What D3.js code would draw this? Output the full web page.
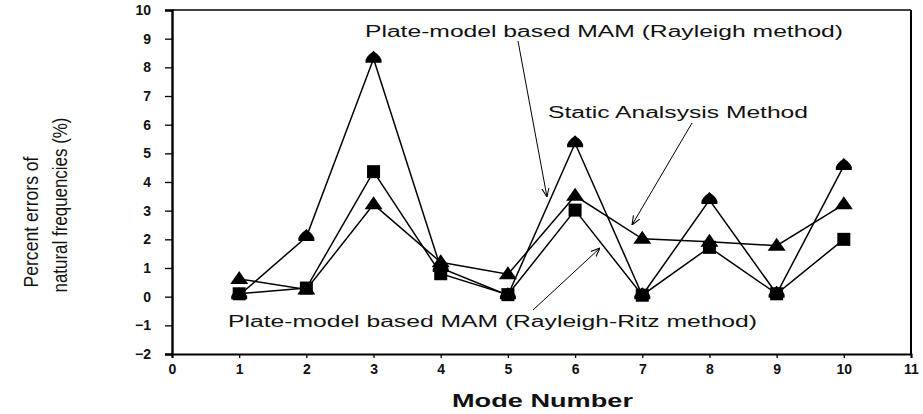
<!DOCTYPE html>
<html><head><meta charset="utf-8">
<script src="https://cdn.jsdelivr.net/npm/d3@7"></script>
<style>body{margin:0;background:#fff}svg{display:block}</style>
</head><body>
<svg id="c" width="923" height="414"></svg>
<script>
const modes = [1,2,3,4,5,6,7,8,9,10];
const rayleigh = [0.05,2.08,8.3,1.0,0.05,5.35,0.05,3.37,0.1,4.56];
const rayleighRitz = [0.1,0.3,4.36,0.8,0.07,3.02,0.05,1.72,0.1,2.0];
const staticMethod = [0.62,0.25,3.22,1.2,0.78,3.52,2.02,1.92,1.78,3.22];
const xTicks = [0,1,2,3,4,5,6,7,8,9,10,11];
const yTicks = [-2,-1,0,1,2,3,4,5,6,7,8,9,10];

const svg = d3.select("#c");
const L=172,R=911,T=10,B=354;
const x = d3.scaleLinear().domain([0,11]).range([L,R]);
const y = d3.scaleLinear().domain([-2,10]).range([B,T]);
const font = "Arial, 'Liberation Sans', sans-serif";

// frame
svg.append("line").attr("x1",L).attr("x2",R).attr("y1",T).attr("y2",T).attr("stroke","#000").attr("stroke-width",1.3);
svg.append("line").attr("x1",R).attr("x2",R).attr("y1",T).attr("y2",B).attr("stroke","#000").attr("stroke-width",2);

const ya = svg.append("g").attr("transform",`translate(${L},0)`)
  .call(d3.axisLeft(y).tickValues(yTicks).tickSize(7).tickPadding(14));
const xa = svg.append("g").attr("transform",`translate(0,${B})`)
  .call(d3.axisBottom(x).tickValues(xTicks).tickSize(4).tickPadding(6));
[ya,xa].forEach(a=>{
  a.select(".domain").attr("stroke-width",2.4);
  a.selectAll("line").attr("stroke-width",1.3);
  a.selectAll("text").attr("font-family",font).attr("font-size",14).attr("font-weight","bold").attr("fill","#111");
});
xa.select(".domain").attr("stroke-width",2);

const line = d3.line().x((d,i)=>x(modes[i])).y(d=>y(d));
const series = [rayleigh, rayleighRitz, staticMethod];
series.forEach(s=>{
  svg.append("path").datum(s).attr("d",line).attr("fill","none").attr("stroke","#000").attr("stroke-width",1.5);
});

// markers
const dome = "M0,-8 L2,-6 C4,-5 6,-3 8,1 L8,4 L-8,4 L-8,1 C-6,-3 -4,-5 -2,-6 Z";
const tri = "M0,-8 L9,5 L-9,5 Z";
svg.append("g").selectAll("path").data(staticMethod).join("path")
  .attr("transform",(d,i)=>`translate(${x(modes[i])},${y(d)})`).attr("d",tri).attr("fill","#000");
svg.append("g").selectAll("rect").data(rayleighRitz).join("rect")
  .attr("x",(d,i)=>x(modes[i])-6.5).attr("y",d=>y(d)-6.5).attr("width",13).attr("height",13).attr("fill","#000");
svg.append("g").selectAll("path").data(rayleigh).join("path")
  .attr("transform",(d,i)=>`translate(${x(modes[i])},${y(d)})`).attr("d",dome).attr("fill","#000");

// axis titles
svg.append("text").attr("x",452).attr("y",407).attr("textLength",181).attr("lengthAdjust","spacingAndGlyphs")
  .attr("font-family",font).attr("font-size",18).attr("font-weight","bold").attr("fill","#111").text("Mode Number");
svg.append("text").attr("transform","translate(38,222) rotate(-90)").attr("text-anchor","middle")
  .attr("textLength",131).attr("lengthAdjust","spacingAndGlyphs")
  .attr("font-family",font).attr("font-size",21).attr("fill","#111").text("Percent errors of");
svg.append("text").attr("transform","translate(67,205) rotate(-90)").attr("text-anchor","middle")
  .attr("textLength",175).attr("lengthAdjust","spacingAndGlyphs")
  .attr("font-family",font).attr("font-size",21).attr("fill","#111").text("natural frequencies (%)");

// annotations
const ann = svg.append("g").attr("font-family",font).attr("font-size",16).attr("fill","#111");
ann.append("text").attr("x",365).attr("y",37).attr("textLength",478).attr("lengthAdjust","spacingAndGlyphs").text("Plate-model based MAM (Rayleigh method)");
ann.append("text").attr("x",548).attr("y",118).attr("textLength",260).attr("lengthAdjust","spacingAndGlyphs").text("Static Analsysis Method");
ann.append("text").attr("x",228).attr("y",327).attr("textLength",529).attr("lengthAdjust","spacingAndGlyphs").text("Plate-model based MAM (Rayleigh-Ritz method)");

svg.append("defs").append("marker").attr("id","ah").attr("viewBox","0 0 10 10").attr("refX",10).attr("refY",5)
  .attr("markerWidth",9).attr("markerHeight",9).attr("markerUnits","userSpaceOnUse").attr("orient","auto")
  .append("path").attr("d","M0,1 L10,5 L0,9").attr("fill","none").attr("stroke","#000").attr("stroke-width",1.2);
const arrows = [[518,41,547,197],[692,123,632,225],[533,310,600,248]];
svg.append("g").selectAll("line").data(arrows).join("line")
  .attr("x1",d=>d[0]).attr("y1",d=>d[1]).attr("x2",d=>d[2]).attr("y2",d=>d[3])
  .attr("stroke","#000").attr("stroke-width",1).attr("marker-end","url(#ah)");
</script>
</body></html>
